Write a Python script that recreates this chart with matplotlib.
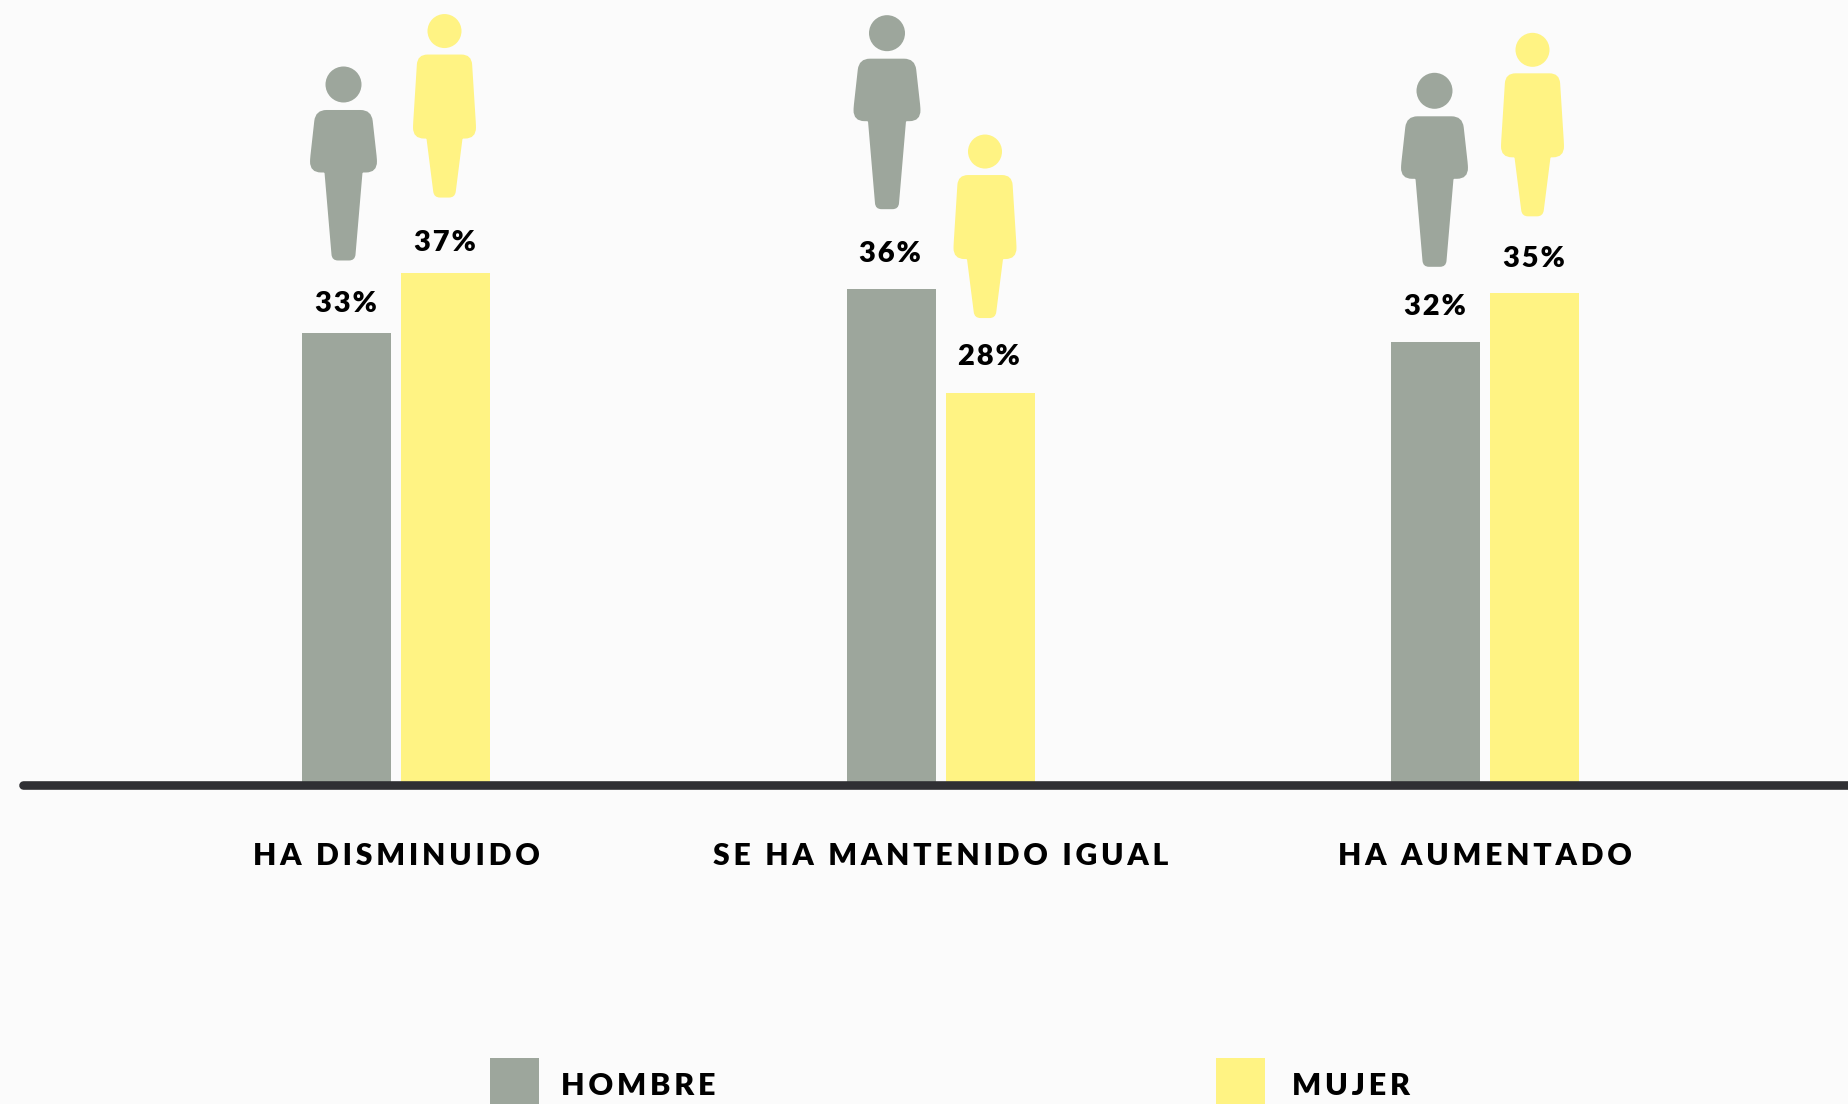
import matplotlib
matplotlib.use('Agg')
import matplotlib.pyplot as plt
from matplotlib.path import Path
from matplotlib.patches import PathPatch, Ellipse, Rectangle

categories = ['HA DISMINUIDO', 'SE HA MANTENIDO IGUAL', 'HA AUMENTADO']
legend_names = ['HOMBRE', 'MUJER']
hombre = [32.6, 35.8, 32.0]
mujer = [37.0, 28.3, 35.5]
hombre_labels = ['33%', '36%', '32%']
mujer_labels = ['37%', '28%', '35%']

GRAY = '#9DA69C'
YELLOW = '#FFF383'
BG = '#FBFBFB'
LINE = '#2F2F33'

# size of one unit in pixels (dpi 100)
X_PX = 544.5
Y_PX = 13.85
X0_PX = 396.0
Y0_PX = 785.0

plt.rcParams['font.family'] = ['Lato', 'DejaVu Sans']


def spaced(text, n=1):
    # no letter spacing in matplotlib, hair spaces do the job
    return ('\u200a' * n).join(text)


def to_data(px, py):
    return (px - X0_PX) / X_PX, (Y0_PX - py) / Y_PX


def rounded_path(points, radius):
    # closed polygon with corners cut by quadratic curves
    verts = []
    codes = []
    n = len(points)
    for i in range(n):
        x, y = points[i]
        r = radius[i]
        ax_, ay_ = points[i - 1]
        bx, by = points[(i + 1) % n]
        d1 = ((ax_ - x) ** 2 + (ay_ - y) ** 2) ** 0.5
        d2 = ((bx - x) ** 2 + (by - y) ** 2) ** 0.5
        start = (x + (ax_ - x) * r / d1, y + (ay_ - y) * r / d1)
        end = (x + (bx - x) * r / d2, y + (by - y) * r / d2)
        verts.append(start)
        codes.append(Path.MOVETO if i == 0 else Path.LINETO)
        verts += [(x, y), end]
        codes += [Path.CURVE3, Path.CURVE3]
    verts.append(verts[0])
    codes.append(Path.CLOSEPOLY)
    return verts, codes


# outlines in px relative to the feet, y going up
man_body = [(-28, 150.5), (28, 150.5), (33.5, 101), (33.5, 88), (19, 88), (11.5, 0), (-11.5, 0), (-19, 88), (-33.5, 88), (-33.5, 101)]
man_radius = [11, 11, 4, 11, 1, 6, 6, 1, 11, 4]
woman_body = [(-27, 143), (27, 143), (31.5, 72), (31.5, 59), (18, 59), (10.5, 0), (-10.5, 0), (-18, 59), (-31.5, 59), (-31.5, 72)]
woman_radius = [10, 10, 4, 11, 1, 6, 6, 1, 11, 4]


def person(ax, cx, feet_y, body, radius, head_y, head_r, color):
    verts, codes = rounded_path(body, radius)
    data = [to_data(cx + v[0], feet_y - v[1]) for v in verts]
    ax.add_patch(PathPatch(Path(data, codes), facecolor=color, edgecolor='none', zorder=3))
    hx, hy = to_data(cx, feet_y - head_y)
    ax.add_patch(Ellipse((hx, hy), 2 * head_r / X_PX, 2 * head_r / Y_PX, facecolor=color, edgecolor='none', zorder=3))


fig = plt.figure(figsize=(18.48, 11.04), dpi=100, facecolor=BG)
ax = fig.add_axes([0, 0, 1, 1])
ax.set_facecolor(BG)
ax.set_xlim(-X0_PX / X_PX, (1848 - X0_PX) / X_PX)
ax.set_ylim((Y0_PX - 1104) / Y_PX, Y0_PX / Y_PX)
ax.axis('off')

width = 89 / X_PX
offset = 49.5 / X_PX
positions = range(len(categories))
bars_h = ax.bar([p - offset for p in positions], hombre, width=width, color=GRAY, zorder=2)
bars_m = ax.bar([p + offset for p in positions], mujer, width=width, color=YELLOW, zorder=2)

# baseline, rounded on the left end, runs off the right edge
lx, ly = to_data(23, 785)
rx, _ = to_data(1900, 785)
ax.plot([lx, rx], [ly, ly], color=LINE, lw=6.2, solid_capstyle='round', zorder=4)

hombre_gap = [21, 27, 27]
mujer_gap = [22, 28, 26]
for bars, labels, gaps in [(bars_h, hombre_labels, hombre_gap), (bars_m, mujer_labels, mujer_gap)]:
    for bar, label, gap in zip(bars, labels, gaps):
        x = bar.get_x() + bar.get_width() / 2 - 1 / X_PX
        y = bar.get_height() + gap / Y_PX
        ax.text(x, y, spaced(label), ha='center', va='baseline', fontsize=21, fontweight='heavy', color='black')

man_dx = [-3.5, -4.5, -1.5]
man_gap = [73, 80, 75]
woman_dx = [-0.5, -4.5, -1.5]
woman_gap = [75, 75, 77]
for i in positions:
    feet = Y0_PX - hombre[i] * Y_PX - man_gap[i]
    cx = X0_PX + i * X_PX - 49 + man_dx[i]
    person(ax, cx, feet, man_body, man_radius, 176, 18, GRAY)
    feet = Y0_PX - mujer[i] * Y_PX - woman_gap[i]
    cx = X0_PX + i * X_PX + 49 + woman_dx[i]
    person(ax, cx, feet, woman_body, woman_radius, 166.5, 17, YELLOW)

for i, name in enumerate(categories):
    _, y = to_data(0, 865)
    ax.text(i, y, spaced(name, 2), ha='center', va='baseline', fontsize=21.7, fontweight='heavy', color='black')

# legend squares run off the bottom
legend_x = [490, 1216]
legend_text_x = [561, 1292]
for name, sx, tx, color in zip(legend_names, legend_x, legend_text_x, [GRAY, YELLOW]):
    x0, y1 = to_data(sx, 1058)
    x1, y0 = to_data(sx + 49, 1110)
    ax.add_patch(Rectangle((x0, y0), x1 - x0, y1 - y0, facecolor=color, edgecolor='none'))
    x, y = to_data(tx, 1095)
    ax.text(x, y, spaced(name, 2), ha='left', va='baseline', fontsize=22, fontweight='heavy', color='black')

fig.savefig('out.png', dpi=100, facecolor=BG)
